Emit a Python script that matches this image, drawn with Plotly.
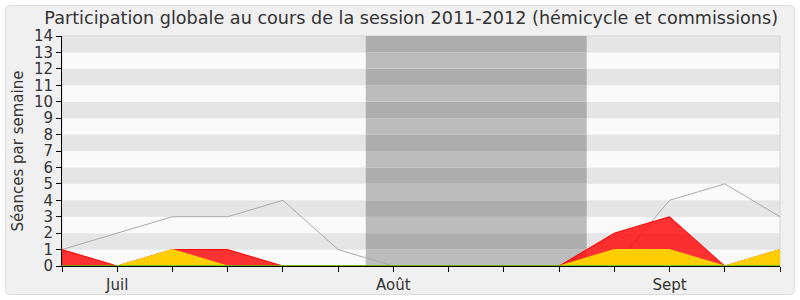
import plotly.graph_objects as go

weeks = list(range(14))
tick_labels = ["", "Juil", "", "", "", "", "Août", "", "", "", "", "Sept", "", ""]
moyenne = [1, 2, 3, 3, 4, 1, 0, 0, 0, 0, 0, 4, 5, 3]
commission = [1, 0, 1, 1, 0, 0, 0, 0, 0, 0, 2, 3, 0, 1]
hemicycle = [0, 0, 1, 0, 0, 0, 0, 0, 0, 0, 1, 1, 0, 1]
interventions = [0, 0, 0, 0, 0, 0, 0, 0, 0, 0, 0, 0, 0, 0]
vacances = [5.5, 9.5]
y_max = 14

FONT = "DejaVu Sans"
W, H = 800, 300
ML, MR, MT, MB = 62, 20, 36, 34
PW, PH = W - ML - MR, H - MT - MB


def px(x):
    return (x - ML) / PW


def py(y):
    return (H - MB - y) / PH


fig = go.Figure()

fig.add_trace(go.Scatter(x=weeks, y=moyenne, mode="lines",
                         line=dict(color="#aaaaaa", width=1), hoverinfo="skip"))
fig.add_trace(go.Scatter(x=weeks, y=commission, mode="lines", fill="tozeroy",
                         fillcolor="rgba(255,0,0,0.8)",
                         line=dict(color="#ff0000", width=1)))
fig.add_trace(go.Scatter(x=weeks, y=hemicycle, mode="lines", fill="tozeroy",
                         fillcolor="rgba(255,215,0,0.95)",
                         line=dict(color="#ffd700", width=1)))
fig.add_trace(go.Scatter(x=weeks, y=interventions, mode="lines",
                         line=dict(color="#00c000", width=1)))

# rounded frame path in pixel space converted to paper coordinates
x0, x1, y0, y1, r = 5.5, 794.5, 5.5, 294.5, 5
path = (f"M {px(x0 + r)} {py(y0)} L {px(x1 - r)} {py(y0)} "
        f"Q {px(x1)} {py(y0)} {px(x1)} {py(y0 + r)} L {px(x1)} {py(y1 - r)} "
        f"Q {px(x1)} {py(y1)} {px(x1 - r)} {py(y1)} L {px(x0 + r)} {py(y1)} "
        f"Q {px(x0)} {py(y1)} {px(x0)} {py(y1 - r)} L {px(x0)} {py(y0 + r)} "
        f"Q {px(x0)} {py(y0)} {px(x0 + r)} {py(y0)} Z")
shapes = [dict(type="path", xref="paper", yref="paper", layer="below", path=path,
               fillcolor="#f0f0f0", line=dict(color="#dcdcdc", width=1))]
for k in range(y_max):
    col = "#e5e5e5" if k % 2 == 1 else "#fafafa"
    shapes.append(dict(type="rect", xref="paper", yref="y", x0=0, x1=1, y0=k, y1=k + 1,
                       fillcolor=col, line=dict(width=0), layer="below"))
    vcol = "#adadad" if k % 2 == 1 else "#bcbcbc"
    shapes.append(dict(type="rect", xref="x", yref="y", x0=vacances[0], x1=vacances[1],
                       y0=k, y1=k + 1, fillcolor=vcol, line=dict(width=0), layer="below"))
shapes.append(dict(type="rect", xref="paper", yref="paper", x0=0, x1=1, y0=0, y1=1,
                   line=dict(color="#d4d4d4", width=1), layer="below"))

fig.update_layout(
    width=W, height=H,
    margin=dict(l=ML, r=MR, t=MT, b=MB),
    paper_bgcolor="white", plot_bgcolor="#fafafa",
    showlegend=False,
    shapes=shapes,
    title=dict(text="Participation globale au cours de la session 2011-2012 (hémicycle et commissions)",
               x=0.514, xanchor="center", y=0.962, yanchor="top",
               font=dict(family=FONT, size=17.6, color="#333333")),
    font=dict(family=FONT, color="#333333"),
)
fig.update_xaxes(range=[0, 13], tickvals=weeks, ticktext=tick_labels,
                 ticks="outside", ticklen=5, tickcolor="#000000",
                 showline=True, linecolor="#000000", linewidth=1,
                 showgrid=False, zeroline=False, tickfont=dict(size=15, color="#333333"),
                 automargin=False, fixedrange=True)
fig.update_yaxes(range=[0, y_max], tickvals=list(range(y_max + 1)),
                 ticks="outside", ticklen=5, tickcolor="#000000",
                 showline=True, linecolor="#000000", linewidth=1,
                 showgrid=False, zeroline=False, tickfont=dict(size=15, color="#333333"),
                 title=dict(text="Séances par semaine", font=dict(size=15, color="#333333"), standoff=6),
                 automargin=False, fixedrange=True)

fig.write_html("out.html")
